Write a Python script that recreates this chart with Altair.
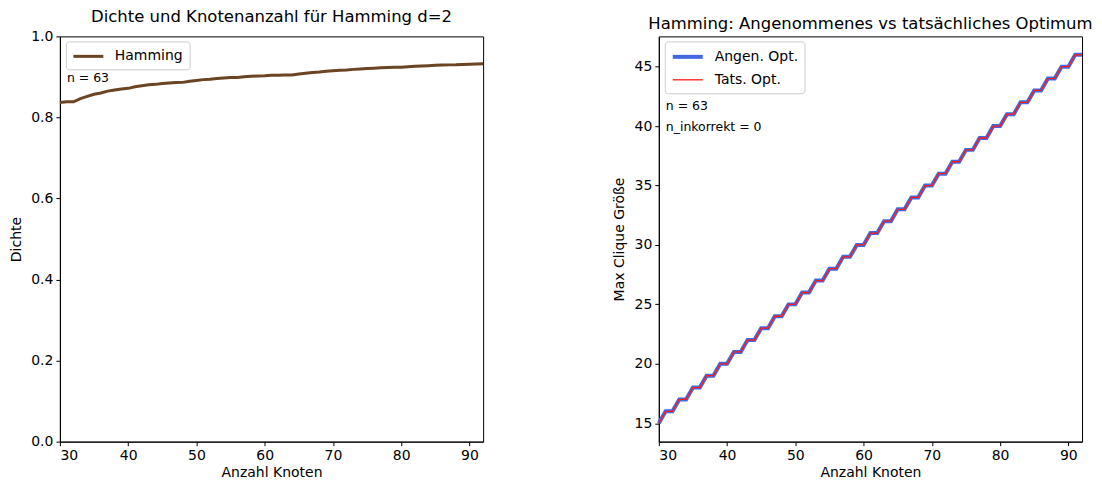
import altair as alt
import pandas as pd

# ---- data ----
nodes = list(range(30, 93))
density = [0.8368, 0.8387, 0.8387, 0.8466, 0.8520, 0.8571, 0.8603, 0.8649, 0.8677, 0.8704,
           0.8718, 0.8756, 0.8780, 0.8804, 0.8816, 0.8838, 0.8850, 0.8862, 0.8865, 0.8895,
           0.8914, 0.8933, 0.8944, 0.8962, 0.8973, 0.8983, 0.8987, 0.9004, 0.9014, 0.9024,
           0.9028, 0.9038, 0.9043, 0.9048, 0.9048, 0.9072, 0.9091, 0.9109, 0.9122, 0.9139,
           0.9151, 0.9163, 0.9171, 0.9186, 0.9197, 0.9207, 0.9214, 0.9224, 0.9231, 0.9237,
           0.9241, 0.9253, 0.9262, 0.9271, 0.9277, 0.9286, 0.9291, 0.9297, 0.9300, 0.9308,
           0.9313, 0.9319, 0.9322]
assumed_opt = [15, 16, 16, 17, 17, 18, 18, 19, 19, 20, 20, 21, 21, 22, 22, 23, 23, 24, 24, 25,
               25, 26, 26, 27, 27, 28, 28, 29, 29, 30, 30, 31, 31, 32, 32, 33, 33, 34, 34, 35,
               35, 36, 36, 37, 37, 38, 38, 39, 39, 40, 40, 41, 41, 42, 42, 43, 43, 44, 44, 45,
               45, 46, 46]
actual_opt = [15, 16, 16, 17, 17, 18, 18, 19, 19, 20, 20, 21, 21, 22, 22, 23, 23, 24, 24, 25,
              25, 26, 26, 27, 27, 28, 28, 29, 29, 30, 30, 31, 31, 32, 32, 33, 33, 34, 34, 35,
              35, 36, 36, 37, 37, 38, 38, 39, 39, 40, 40, 41, 41, 42, 42, 43, 43, 44, 44, 45,
              45, 46, 46]
series_left = ["Hamming"]
series_right = ["Angen. Opt.", "Tats. Opt."]
x_ticks = [30, 40, 50, 60, 70, 80, 90]
y_ticks_left = [0.0, 0.2, 0.4, 0.6, 0.8, 1.0]
y_ticks_right = [15, 20, 25, 30, 35, 40, 45]
notes_left = ["n = 63"]
notes_right = ["n = 63", "n_inkorrekt = 0"]

FONT = "DejaVu Sans"
W, H = 424, 406

df_left = pd.DataFrame({"Anzahl Knoten": nodes, "Dichte": density, "Graph": series_left[0]})
df_right = pd.concat([
    pd.DataFrame({"Anzahl Knoten": nodes, "Wert": assumed_opt, "Serie": series_right[0], "o": 0}),
    pd.DataFrame({"Anzahl Knoten": nodes, "Wert": actual_opt, "Serie": series_right[1], "o": 1}),
])

x_enc = alt.X("Anzahl Knoten:Q", title="Anzahl Knoten",
              scale=alt.Scale(domain=[30, 92], nice=False, zero=False),
              axis=alt.Axis(values=x_ticks, format="d"))

legend_common = dict(orient="none", title=None, symbolType="M-1,0H3",
                     strokeColor="#cccccc", fillColor="white", cornerRadius=3,
                     padding=6, labelFontSize=14, labelFont=FONT, labelColor="black",
                     symbolSize=225, labelOffset=25, rowPadding=6, symbolFillColor="transparent")

left_line = alt.Chart(df_left).mark_line(strokeWidth=3).encode(
    x=x_enc,
    y=alt.Y("Dichte:Q", title="Dichte",
            scale=alt.Scale(domain=[0, 1], nice=False),
            axis=alt.Axis(values=y_ticks_left, format=".1f", minExtent=30, maxExtent=30)),
    color=alt.Color("Graph:N", scale=alt.Scale(domain=series_left, range=["#6b4423"]),
                    legend=alt.Legend(legendX=6, legendY=5, symbolStrokeWidth=3, **legend_common)),
)
left_text = alt.Chart(pd.DataFrame({"t": notes_left, "i": [0]})).mark_text(
    align="left", baseline="middle", fontSize=12.5, font=FONT, color="black"
).encode(x=alt.value(7), y=alt.value(42), text="t:N")
left = alt.layer(left_line, left_text).properties(
    width=W, height=H, title="Dichte und Knotenanzahl für Hamming d=2")

right_line = alt.Chart(df_right).mark_line().encode(
    x=x_enc,
    y=alt.Y("Wert:Q", title="Max Clique Größe",
            scale=alt.Scale(domain=[13.45, 47.55], nice=False, zero=False),
            axis=alt.Axis(values=y_ticks_right, format="d", minExtent=26, maxExtent=26)),
    color=alt.Color("Serie:N", scale=alt.Scale(domain=series_right, range=["#4169e1", "#ff1a1a"]),
                    legend=alt.Legend(legendX=6, legendY=5, **legend_common)),
    strokeWidth=alt.StrokeWidth("Serie:N", scale=alt.Scale(domain=series_right, range=[4, 1.3]),
                                legend=alt.Legend(legendX=6, legendY=5, **legend_common)),
    order=alt.Order("o:Q"),
    detail="Serie:N",
)
right_text = alt.Chart(pd.DataFrame({"t": notes_right, "yy": [70, 91]})).mark_text(
    align="left", baseline="middle", fontSize=12.5, font=FONT, color="black"
).encode(x=alt.value(7), y=alt.Y("yy:Q", scale=None), text="t:N")
right = alt.layer(right_line, right_text).properties(
    width=W, height=H, title="Hamming: Angenommenes vs tatsächliches Optimum")

chart = alt.hconcat(left, right, spacing=122).resolve_scale(
    color="independent", strokeWidth="independent", x="independent", y="independent"
).resolve_legend(color="independent", strokeWidth="independent").properties(
    padding={"left": 1, "top": 0, "right": 0, "bottom": 0},
    background="white",
).configure_view(stroke="black", strokeWidth=1).configure_axis(
    grid=False, domainColor="black", tickColor="black", labelColor="black", titleColor="black",
    tickSize=4, labelFontSize=14, titleFontSize=14, labelFont=FONT, titleFont=FONT,
    titleFontWeight="normal", labelPadding=3, titlePadding=6,
).configure_axisX(labelPadding=3, titlePadding=3).configure_title(
    fontSize=16.5, font=FONT, fontWeight="normal", color="black", anchor="middle", offset=0
)

chart.save("out.html", embed_options={"renderer": "svg", "actions": False})
